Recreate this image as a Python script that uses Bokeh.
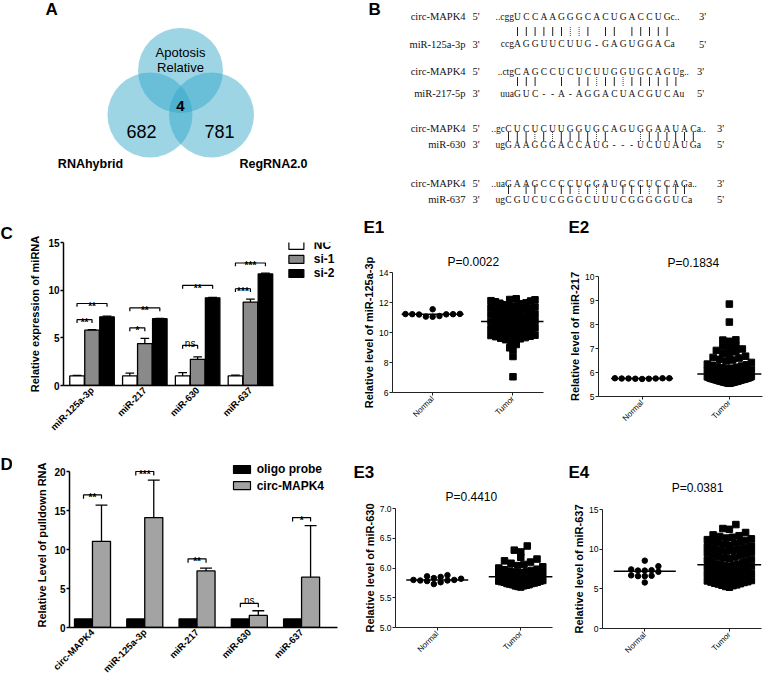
import numpy as np
from bokeh.plotting import figure
from bokeh.layouts import column, row
from bokeh.models import Range1d, FixedTicker, Label, NumeralTickFormatter, Title
from bokeh.core.properties import value
from bokeh.embed import file_html
from bokeh.resources import INLINE

SANS = "Liberation Sans"
SERIF = "Liberation Serif"

# ---------------- data ----------------
# A: Venn diagram
venn_side_names = ["RNAhybrid", "RegRNA2.0"]
venn_top_name = ["Apotosis", "Relative"]
venn_side_counts = [682, 781]
venn_shared_count = 4

# B: circ-MAPK4 / miRNA pairing
pair_target = ["circ-MAPK4", "circ-MAPK4", "circ-MAPK4", "circ-MAPK4"]
pair_mirna = ["miR-125a-3p", "miR-217-5p", "miR-630", "miR-637"]
target_5flank = ["..cgg", "..ctg", "..gc", "..ua"]
target_core = ["UCCAAGGGCACUGACCUG", "CAGCCUCUCUUGGUGCAGU",
               "CUCUCUUGGUGCAGUGGAAUAC", "GAAGCCCCUGGAUGCCUCCAG"]
target_3flank = ["c..", "g..", "a..", "a.."]
mirna_3flank = ["ccg", "uua", "ug", "ug"]
mirna_core = ["AGGUUCUUG-GAGUGGAC", "GUC--A-AGGACUACGUCA",
              "GAAGGGACCAUG---UCUUAUG", "CGUCUCGGGCUUUCGGGGGUC"]
mirna_5flank = ["a", "u", "a", "a"]
pair_marks = ["||||||::| || |||||", "|||  | ||:||:||||||",
              "|||:|:||||:|   :||||||", "| ||  ||:|:| |||:||||"]

# C: relative expression of miRNA
c_groups = ["miR-125a-3p", "miR-217", "miR-630", "miR-637"]
c_series = ["NC", "si-1", "si-2"]
c_nc = [1.0, 1.0, 1.0, 1.0]
c_nc_sd = [0.07, 0.3, 0.35, 0.08]
c_si1 = [5.8, 4.4, 2.75, 8.75]
c_si1_sd = [0.05, 0.55, 0.25, 0.3]
c_si2 = [7.2, 7.0, 9.2, 11.7]
c_si2_sd = [0.08, 0.03, 0.03, 0.08]
c_sig_near = ["**", "*", "ns", "***"]
c_sig_near_y = [6.9, 6.05, 4.2, 10.15]
c_sig_far = ["**", "**", "**", "***"]
c_sig_far_y = [8.6, 8.15, 10.5, 12.85]

# D: pulldown
d_groups = ["circ-MAPK4", "miR-125a-3p", "miR-217", "miR-630", "miR-637"]
d_series = ["oligo probe", "circ-MAPK4"]
d_oligo = [1.1, 1.1, 1.1, 1.1, 1.1]
d_circ = [11.05, 14.1, 7.25, 1.55, 6.45]
d_circ_sd = [4.65, 4.8, 0.35, 0.6, 6.6]
d_sig = ["**", "***", "**", "ns", "*"]
d_sig_y = [17.0, 20.0, 8.8, 3.1, 14.1]

# E: Normal vs Tumor
e_cats = ["Normal", "Tumor"]
e1_normal = [11.22, 11.24, 11.21, 11.23, 11.55, 11.06, 11.1, 11.22, 11.2, 11.05]
e1_tumor = [12.25, 12.18, 12.2, 12.1, 12.05, 12.12, 11.98, 11.92, 11.95, 11.85,
            11.8, 11.76, 11.7, 11.72, 11.65, 11.6, 11.62, 11.55, 11.5, 11.52,
            11.45, 11.4, 11.42, 11.35, 11.3, 11.28, 11.22, 11.18, 11.2, 11.12,
            11.08, 11.05, 11.0, 10.98, 10.92, 10.95, 10.88, 10.85, 10.8, 10.82,
            10.76, 10.74, 10.7, 10.68, 10.62, 10.65, 10.58, 10.55, 10.5, 10.52,
            10.45, 10.42, 10.38, 10.35, 10.3, 10.32, 10.25, 10.22, 10.18, 10.15,
            10.1, 10.12, 10.05, 10.0, 9.98, 9.92, 9.95, 9.88, 9.82, 9.8,
            9.75, 9.72, 9.66, 9.62, 9.58, 9.52, 9.48, 9.42, 9.2, 8.98,
            8.85, 8.4, 7.05]
e2_normal = [5.75, 5.76, 5.74, 5.75, 5.73, 5.76, 5.75, 5.74, 5.76]
e2_tumor = [5.55, 5.56, 5.57, 5.58, 5.58, 5.59, 5.6, 5.6, 5.61, 5.62, 5.63, 5.64, 5.64,
            5.65, 5.66, 5.67, 5.68, 5.69, 5.7, 5.7, 5.71, 5.72, 5.73, 5.74, 5.74, 5.75,
            5.76, 5.77, 5.78, 5.8, 5.8, 5.82, 5.84, 5.85, 5.87, 5.88, 5.9, 5.92, 5.93,
            5.95, 5.97, 5.98, 6.0, 6.02, 6.04, 6.06, 6.08, 6.1, 6.13, 6.16, 6.18, 6.2,
            6.22, 6.25, 6.27, 6.3, 6.32, 6.35, 6.42, 6.48, 6.52, 6.55, 6.6, 6.63, 6.68,
            6.75, 6.8, 6.86, 6.92, 6.98, 7.02, 7.08, 7.12, 7.3, 7.35, 7.36,
            8.1, 8.85]
e3_normal = [5.83, 5.80, 5.78, 5.79, 5.86, 5.88, 5.85, 5.76, 5.73, 5.80, 5.82, 5.79]
e3_tumor = [5.68, 5.69, 5.7, 5.7, 5.71, 5.72, 5.72, 5.73, 5.74, 5.74, 5.75, 5.76,
            5.76, 5.77, 5.78, 5.78, 5.79, 5.8, 5.8, 5.81, 5.82, 5.82, 5.83, 5.84,
            5.85, 5.85, 5.86, 5.87, 5.88, 5.88, 5.89, 5.9, 5.91, 5.92, 5.93, 5.94,
            5.95, 5.96, 5.97, 5.98, 6.0, 6.02, 6.04, 6.06, 6.08, 6.1,
            6.12, 6.15, 6.18, 6.27, 6.3, 6.37]
e4_normal = [8.55, 7.85, 7.45, 7.35, 7.3, 7.3, 7.15, 6.7, 6.65, 6.6, 6.6, 5.8]
e4_tumor = [5.2, 5.3, 5.4, 5.45, 5.5, 5.6, 5.65, 5.7, 5.8, 5.85, 5.9, 6.0, 6.05,
            6.1, 6.2, 6.25, 6.3, 6.4, 6.45, 6.5, 6.6, 6.65, 6.7, 6.8, 6.85, 6.9,
            7.0, 7.05, 7.1, 7.2, 7.25, 7.3, 7.4, 7.45, 7.5, 7.6, 7.65, 7.7, 7.8,
            7.85, 7.9, 8.0, 8.05, 8.1, 8.2, 8.3, 8.4, 8.5, 8.6, 8.7, 8.8, 8.9,
            9.0, 9.1, 9.2, 9.3, 9.4, 9.5, 9.6, 9.7, 9.8, 9.9, 10.0, 10.1, 10.2,
            10.3, 10.4, 10.5, 10.6, 10.7, 10.8, 10.9, 11.0, 11.1, 11.2, 11.3,
            11.4, 11.5, 11.6, 11.7, 11.8, 12.1, 12.5, 12.6, 13.1]
e_pvalues = ["P=0.0022", "P=0.1834", "P=0.4410", "P=0.0381"]
e_ylabels = ["Relative level of miR-125a-3p", "Relative level of miR-217",
             "Relative level of miR-630", "Relative level of miR-637"]


# ---------------- helpers ----------------
def base_fig(w, h, left, right, top, bottom, xr, yr, axes=True):
    kw = {} if axes else dict(x_axis_location=None, y_axis_location=None)
    p = figure(width=w, height=h, x_range=xr, y_range=yr,
               min_border_left=left, min_border_right=right,
               min_border_top=top, min_border_bottom=bottom,
               output_backend="svg", toolbar_location=None, tools="", **kw)
    p.frame_align = False
    p.outline_line_color = None
    p.grid.visible = False
    p.background_fill_color = "white"
    p.border_fill_color = "white"
    return p


def strip(w, h):
    # borderless figure whose data coordinates equal its canvas pixels
    return base_fig(w, h, 0, 0, 0, 0, Range1d(0, w), Range1d(h, 0), axes=False)


TXT = dict(text_font=value(SANS), text_color="black")


def letter_glyph(p, txt, x, y):
    p.text(x=[x], y=[y], text=[txt], text_font_size="17px", text_font_style="bold",
           text_align="left", text_baseline="top", **TXT)


def title_text(p, txt, offset, standoff, size="17px", bold=True):
    p.add_layout(Title(text=txt, align="left", offset=offset, standoff=standoff,
                       text_font=SANS, text_font_size=size,
                       text_font_style="bold" if bold else "normal", text_color="black"), "above")


def style_axes(p, tick_size, tick_bold, line_w, color="black"):
    for ax in list(p.xaxis) + list(p.yaxis):
        ax.axis_line_width = line_w
        ax.axis_line_color = color
        ax.major_tick_line_width = line_w
        ax.major_tick_line_color = color
        ax.minor_tick_line_color = None
        ax.major_tick_in = 0
        ax.major_label_text_font = SANS
        ax.major_label_text_font_size = tick_size
        ax.major_label_text_font_style = "bold" if tick_bold else "normal"
        ax.major_label_text_color = "black"
        ax.axis_label_text_font = SANS
        ax.axis_label_text_font_style = "bold"
        ax.axis_label_text_color = "black"


def swarm(vals, bin_h, step, max_half):
    v = np.sort(np.asarray(vals, dtype=float))
    keys = np.floor((v - v.min()) / bin_h + 1e-9).astype(int)
    off = np.zeros_like(v)
    for k in np.unique(keys):
        idx = np.where(keys == k)[0]
        n = len(idx)
        sp = step if n < 2 else min(step, 2 * max_half / (n - 1))
        slots = (np.arange(n) - (n - 1) / 2) * sp
        order = np.argsort(np.abs(slots), kind="stable")
        off[idx] = slots[order]
    return v, off


R1, R2, R3 = 218, 237, 228
A_W = 362

# ---------------- A: Venn ----------------
pa = strip(A_W, R1)
pa.circle(x=[180, 149.5, 211], y=[70, 114.5, 114.5], radius=42.5,
          fill_color="#2ea5c7", fill_alpha=0.47, line_color=None)
pa.text(x=[180, 180], y=[52, 67], text=venn_top_name, text_font_size="13px",
        text_align="center", text_baseline="middle", **TXT)
pa.text(x=[180], y=[105], text=[str(venn_shared_count)], text_font_size="15px", text_font_style="bold",
        text_align="center", text_baseline="middle", **TXT)
pa.text(x=[141, 219], y=[131, 131], text=[str(c) for c in venn_side_counts],
        text_font_size="18px", text_align="center", text_baseline="middle", **TXT)
pa.text(x=[90, 273], y=[163, 163], text=venn_side_names, text_font_size="12.5px", text_font_style="bold",
        text_align="center", text_baseline="middle", **TXT)
letter_glyph(pa, "A", 45, -1)

# ---------------- B: pairing ----------------
B_W = 777 - A_W
pb = base_fig(B_W, R1, 0, 0, 0, 0, Range1d(A_W, A_W + B_W), Range1d(R1, 0), axes=False)
row_top = [16, 71, 128, 183]
row_bar = [31, 81, 136, 189]
row_bot = [43.5, 93, 144, 199]
row_start = [517, 517, 508, 508]
row_end = [702, 700, 720, 720]
pitch = 8.8
sx, sy, st = [], [], []
solid = ([], [], [], [])
dotted = ([], [], [], [])
for r in range(4):
    x0 = row_start[r]
    for i, ch in enumerate(target_core[r]):
        sx.append(x0 + i * pitch); sy.append(row_top[r]); st.append(ch)
    for i, ch in enumerate(mirna_core[r]):
        sx.append(x0 + i * pitch); sy.append(row_bot[r]); st.append(ch)
    for i, ch in enumerate(pair_marks[r]):
        tgt = solid if ch == "|" else dotted if ch == ":" else None
        if tgt is not None:
            xx = x0 + i * pitch
            tgt[0].append(xx); tgt[1].append(row_bar[r] - 4.5)
            tgt[2].append(xx); tgt[3].append(row_bar[r] + 4.5)
seq_kw = dict(text_font=value(SERIF), text_font_size="9.5px", text_color="#111111")
pb.text(x=sx, y=sy, text=st, text_align="center", text_baseline="middle", **seq_kw)
pb.segment(x0=solid[0], y0=solid[1], x1=solid[2], y1=solid[3], line_color="#222222", line_width=1)
pb.segment(x0=dotted[0], y0=dotted[1], x1=dotted[2], y1=dotted[3], line_color="#444444",
           line_width=1, line_dash="1 1")
lx, ly, lt, rx, ry, rt = [], [], [], [], [], []
for r in range(4):
    x0 = row_start[r]
    lx += [x0 - 3.5, x0 - 3.5]; ly += [row_top[r], row_bot[r]]
    lt += [target_5flank[r], mirna_3flank[r]]
    rx += [x0 + (len(target_core[r]) - 1) * pitch + 3.5, x0 + (len(mirna_core[r]) - 1) * pitch + 3.5]
    ry += [row_top[r], row_bot[r]]
    rt += [target_3flank[r], mirna_5flank[r]]
pb.text(x=lx, y=ly, text=lt, text_align="right", text_baseline="middle", **seq_kw)
pb.text(x=rx, y=ry, text=rt, text_align="left", text_baseline="middle", **seq_kw)
lab_kw = dict(text_font=value(SERIF), text_font_size="10.5px", text_color="#111111")
names_y = [y for r in range(4) for y in (row_top[r], row_bot[r])]
names_t = [t for r in range(4) for t in (pair_target[r], pair_mirna[r])]
pb.text(x=[465] * 8, y=names_y, text=names_t, text_align="right", text_baseline="middle", **lab_kw)
pb.text(x=[472] * 8, y=names_y, text=["5'", "3'"] * 4, text_align="left", text_baseline="middle", **lab_kw)
pb.text(x=[e for e in row_end for _ in (0, 1)], y=names_y, text=["3'", "5'"] * 4,
        text_align="center", text_baseline="middle", **lab_kw)
letter_glyph(pb, "B", A_W + 6, -1)

# ---------------- C: bar chart ----------------
pc = base_fig(350, R2, 63, 5, 24, 70, Range1d(0.46, 5.80), Range1d(0, 15))
style_axes(pc, "10px", True, 1.5)
pc.yaxis.ticker = FixedTicker(ticks=[0, 5, 10, 15])
pc.yaxis.axis_label = "Relative expression of miRNA"
pc.yaxis.axis_label_text_font_size = "11px"
pc.yaxis.major_tick_out = 3
pc.yaxis.major_label_standoff = 1
pc.yaxis.axis_label_standoff = 4
pc.xaxis.ticker = FixedTicker(ticks=[1, 2, 3, 4])
pc.xaxis.major_label_overrides = {i + 1: g for i, g in enumerate(c_groups)}
pc.xaxis.major_label_orientation = np.pi / 4
pc.xaxis.major_tick_line_color = None
pc.xaxis.major_tick_out = 0
pc.xaxis.major_label_standoff = 3
pc.xaxis.major_label_text_font_size = "9.5px"
pc.xaxis.bounds = (0.46, 4.44)
cx = np.arange(1, len(c_groups) + 1, dtype=float)
c_off = [-0.284, 0.0, 0.284]
c_bw = 0.275
c_colors = ["white", "#8a8a8a", "black"]
for k, (vals, sds) in enumerate([(c_nc, c_nc_sd), (c_si1, c_si1_sd), (c_si2, c_si2_sd)]):
    xs = cx + c_off[k]
    tops = np.add(vals, sds)
    pc.segment(x0=xs, y0=vals, x1=xs, y1=tops, line_color="black", line_width=1.3)
    pc.segment(x0=xs - c_bw * 0.3, y0=tops, x1=xs + c_bw * 0.3, y1=tops, line_color="black", line_width=1.3)
    pc.vbar(x=xs, top=vals, bottom=0, width=c_bw, fill_color=c_colors[k], line_color="black", line_width=1.3)
bxs, bys, stx, sty, stt, nsx, nsy = [], [], [], [], [], [], []
dd = 0.35
for g in range(len(c_groups)):
    xa = cx[g] + c_off[0]
    for xb, h, lab in ((cx[g] + c_off[1], c_sig_near_y[g], c_sig_near[g]),
                       (cx[g] + c_off[2], c_sig_far_y[g], c_sig_far[g])):
        bxs.append([xa, xa, xb, xb]); bys.append([h - dd, h, h, h - dd])
        if lab == "ns":
            nsx.append((xa + xb) / 2); nsy.append(h + 0.25)
        else:
            stx.append((xa + xb) / 2); sty.append(h - 0.3); stt.append(lab)
pc.multi_line(bxs, bys, line_color="black", line_width=1.2)
pc.text(x=stx, y=sty, text=stt, text_font_size="10px", text_font_style="bold",
        text_align="center", text_baseline="alphabetic", **TXT)
pc.text(x=nsx, y=nsy, text=["ns"] * len(nsx), text_font_size="10px",
        text_align="center", text_baseline="alphabetic", **TXT)
c_leg_y = [14.69, 13.22, 11.75]
pc.rect(x=[4.87] * 3, y=c_leg_y, width=15, height=8, width_units="screen", height_units="screen",
        fill_color=c_colors, line_color="black", line_width=1.2)
pc.text(x=[5.2] * 3, y=c_leg_y, text=c_series, text_font_size="12px",
        text_font_style="bold", text_baseline="middle", **TXT)
title_text(pc, "C", -63, 0)

# ---------------- D: pulldown bars ----------------
D_STRIP = 12
psd = strip(D_STRIP, R3)
letter_glyph(psd, "D", 0, -1)
pd_ = base_fig(350 - D_STRIP, R3, 69 - D_STRIP, 5, 4, 56, Range1d(0.56, 5.84), Range1d(0, 21.54))
style_axes(pd_, "10px", True, 1.5)
pd_.yaxis.ticker = FixedTicker(ticks=[0, 5, 10, 15, 20])
pd_.yaxis.bounds = (0, 20)
pd_.yaxis.axis_label = "Relative Level of  pulldown RNA"
pd_.yaxis.axis_label_text_font_size = "11px"
pd_.yaxis.major_tick_out = 3
pd_.yaxis.major_label_standoff = 1
pd_.yaxis.axis_label_standoff = 3
pd_.xaxis.ticker = FixedTicker(ticks=[1, 2, 3, 4, 5])
pd_.xaxis.major_label_overrides = {i + 1: g for i, g in enumerate(d_groups)}
pd_.xaxis.major_label_orientation = np.pi / 4
pd_.xaxis.major_tick_line_color = None
pd_.xaxis.major_tick_out = 0
pd_.xaxis.major_label_standoff = 3
pd_.xaxis.major_label_text_font_size = "9.5px"
pd_.xaxis.bounds = (0.56, 5.69)
dx = np.arange(1, len(d_groups) + 1, dtype=float)
d_bw = 0.345
d_colors = ["black", "#a3a3a3"]
xs_o = dx - 0.172
xs_c = dx + 0.172
tops = np.add(d_circ, d_circ_sd)
pd_.segment(x0=xs_c, y0=d_circ, x1=xs_c, y1=tops, line_color="black", line_width=1.3)
pd_.segment(x0=xs_c - d_bw * 0.33, y0=tops, x1=xs_c + d_bw * 0.33, y1=tops, line_color="black", line_width=1.3)
pd_.vbar(x=xs_o, top=d_oligo, bottom=0, width=d_bw, fill_color=d_colors[0], line_color="black", line_width=1.3)
pd_.vbar(x=xs_c, top=d_circ, bottom=0, width=d_bw, fill_color=d_colors[1], line_color="black", line_width=1.3)
bxs, bys, stx, sty, stt, nsx, nsy = [], [], [], [], [], [], []
dd = 0.5
for g in range(len(d_groups)):
    xa, xb, h, lab = xs_o[g], xs_c[g], d_sig_y[g], d_sig[g]
    bxs.append([xa, xa, xb, xb]); bys.append([h - dd, h, h, h - dd])
    if lab == "ns":
        nsx.append((xa + xb) / 2); nsy.append(h + 0.3)
    else:
        stx.append((xa + xb) / 2); sty.append(h - 0.35); stt.append(lab)
pd_.multi_line(bxs, bys, line_color="black", line_width=1.2)
pd_.text(x=stx, y=sty, text=stt, text_font_size="10px", text_font_style="bold",
         text_align="center", text_baseline="alphabetic", **TXT)
pd_.text(x=nsx, y=nsy, text=["ns"] * len(nsx), text_font_size="10px",
         text_align="center", text_baseline="alphabetic", **TXT)
d_leg_y = [20.26, 18.2]
pd_.rect(x=[3.86] * 2, y=d_leg_y, width=17, height=8, width_units="screen", height_units="screen",
         fill_color=d_colors, line_color="black", line_width=1.2)
pd_.text(x=[4.14] * 2, y=d_leg_y, text=d_series, text_font_size="12px",
         text_font_style="bold", text_baseline="middle", **TXT)

# ---------------- E: scatter dot plots ----------------
E_RANGE = (0.5, 2.38)


def e_panel(geom, yr, yticks, ylabel, normal, tumor, fmt=None):
    w, h, left, right, top, bottom = geom
    p = base_fig(w, h, left, right, top, bottom, Range1d(*E_RANGE), Range1d(*yr))
    style_axes(p, "8.5px", False, 1, "#222222")
    fw = w - left - right
    fh = h - top - bottom
    ppx = fw / (E_RANGE[1] - E_RANGE[0])
    ppy = fh / (yr[1] - yr[0])
    nv, no = swarm(normal, 5.5 / ppy, 6.8 / ppx, 28 / ppx)
    tv, to = swarm(tumor, 7.0 / ppy, 6.5 / ppx, 22 / ppx)
    p.scatter(1 + no, nv, marker="circle", size=5.5, fill_color="black", line_color="black")
    p.scatter(2 + to, tv, marker="square", size=6.5, fill_color="black", line_color="black")
    mn, mt = float(np.median(normal)), float(np.median(tumor))
    p.segment(x0=[1 - 31 / ppx, 2 - 32 / ppx], y0=[mn, mt], x1=[1 + 31 / ppx, 2 + 32 / ppx], y1=[mn, mt],
              line_color="black", line_width=1.5)
    p.yaxis.ticker = FixedTicker(ticks=yticks)
    if fmt:
        p.yaxis.formatter = NumeralTickFormatter(format=fmt)
    p.yaxis.axis_label = ylabel
    p.yaxis.axis_label_text_font_size = "11px"
    p.yaxis.major_tick_out = 3
    p.yaxis.major_label_standoff = 1
    p.yaxis.axis_label_standoff = 1
    p.xaxis.ticker = FixedTicker(ticks=[1, 2])
    p.xaxis.major_label_overrides = {1: e_cats[0], 2: e_cats[1]}
    p.xaxis.major_label_orientation = np.pi / 4
    p.xaxis.major_label_text_font_size = "8px"
    p.xaxis.major_tick_out = 3
    p.xaxis.major_label_standoff = 2
    return p


# E1
s1 = strip(210, 22)
letter_glyph(s1, "E1", 13, -1)
pe1 = e_panel((210, R2 - 22, 42, 17, 32, 63), (6, 14), [6, 8, 10, 12, 14], e_ylabels[0], e1_normal, e1_tumor)
title_text(pe1, e_pvalues[0], 55, 8, size="12px", bold=False)
# E2
s2 = strip(217, 22)
letter_glyph(s2, "E2", 8, -1)
pe2 = e_panel((217, R2 - 22, 38, 15, 36, 59), (5, 10), [5, 6, 7, 8, 9, 10], e_ylabels[1], e2_normal, e2_tumor)
title_text(pe2, e_pvalues[1], 69, 14, size="12px", bold=False)
# E3
s3 = strip(210, 26)
letter_glyph(s3, "E3", 3, 7)
pe3 = e_panel((210, R3 - 26, 45, 8, 27, 56), (5, 7), [5.0, 5.5, 6.0, 6.5, 7.0], e_ylabels[2],
              e3_normal, e3_tumor, fmt="0.0")
title_text(pe3, e_pvalues[2], 50, 10, size="12px", bold=False)
# E4
s4 = strip(217, 40)
letter_glyph(s4, "E4", 8, 7)
s4.text(x=[137], y=[32], text=[e_pvalues[3]], text_font_size="12px", text_align="center",
        text_baseline="middle", **TXT)
pe4 = e_panel((217, R3 - 40, 42, 16, 14, 55), (0, 15), [0, 5, 10, 15], e_ylabels[3], e4_normal, e4_tumor)

layout = column(
    row(pa, pb, spacing=0),
    row(pc, column(s1, pe1, spacing=0), column(s2, pe2, spacing=0), spacing=0),
    row(psd, pd_, column(s3, pe3, spacing=0), column(s4, pe4, spacing=0), spacing=0),
    spacing=0)
open("out.html", "w").write(file_html(layout, INLINE))
